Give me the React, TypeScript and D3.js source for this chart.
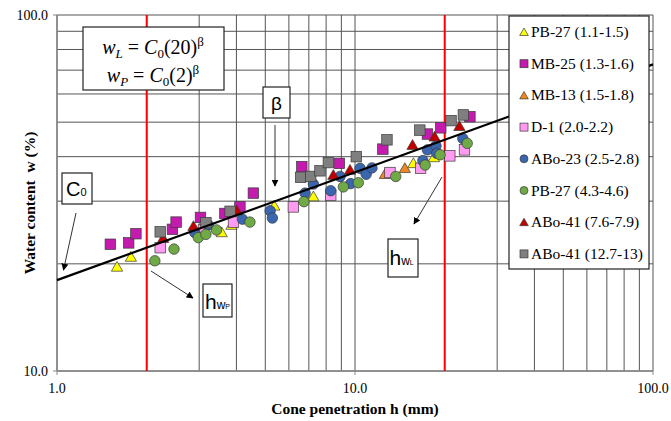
import React from "react";
import * as d3 from "d3";

// cone penetration h (mm) / water content w (%) pairs
const pb27a: [number, number][] = [
  [1.59, 19.6], [1.77, 20.9], [3.57, 24.5], [3.85, 25.7], [5.36, 29.1],
  [7.25, 30.9], [15.7, 38.3], [18.4, 39.8],
];
const mb25: [number, number][] = [
  [1.51, 22.7], [1.74, 22.9], [1.84, 24.3], [2.44, 25.0], [2.51, 26.2],
  [3.03, 27.0], [3.66, 27.7], [4.11, 28.9], [4.56, 31.6], [6.63, 37.5],
  [8.86, 38.3], [12.4, 42.0], [17.5, 46.3], [19.4, 48.2], [24.3, 51.8],
];
const mb13: [number, number][] = [[12.6, 35.7], [14.7, 37.1]];
const d1: [number, number][] = [
  [2.22, 22.2], [3.1, 24.9], [3.91, 26.2], [6.21, 28.9], [8.29, 31.2],
  [13.1, 36.1], [16.6, 37.1], [20.8, 40.2], [23.3, 41.8],
];
const abo23: [number, number][] = [
  [2.9, 24.5], [3.22, 25.7], [4.19, 26.7], [5.19, 28.2], [5.28, 26.9],
  [6.8, 31.6], [7.25, 33.5], [8.29, 32.1], [8.91, 35.2], [9.67, 33.6],
  [10.4, 37.1], [10.9, 35.7], [11.4, 37.2], [16.9, 39.0], [17.5, 41.8],
  [18.7, 42.9], [18.8, 40.9], [23.0, 45.0],
];
const pb27b: [number, number][] = [
  [2.13, 20.4], [2.47, 22.0], [2.98, 23.7], [3.16, 24.2], [3.43, 24.9],
  [4.44, 26.2], [6.74, 29.9], [9.14, 32.9], [10.26, 33.8], [13.7, 35.2],
  [17.2, 37.9], [19.3, 40.5], [23.8, 43.6],
];
const abo41a: [number, number][] = [
  [2.27, 23.6], [2.87, 25.5], [4.01, 28.2], [8.46, 35.5], [9.62, 36.7],
  [15.6, 43.1], [18.5, 45.5], [22.4, 48.7],
];
const abo41b: [number, number][] = [
  [2.22, 24.6], [3.16, 26.1], [3.81, 28.1], [6.57, 35.0], [7.1, 35.2],
  [7.63, 36.5], [8.14, 38.5], [10.1, 40.0], [12.8, 44.6], [16.5, 47.5],
  [21.0, 50.5], [23.1, 52.4],
];

const seriesNames = [
  "PB-27 (1.1-1.5)", "MB-25 (1.3-1.6)", "MB-13 (1.5-1.8)", "D-1 (2.0-2.2)",
  "ABo-23 (2.5-2.8)", "PB-27 (4.3-4.6)", "ABo-41 (7.6-7.9)", "ABo-41 (12.7-13)",
];
const seriesData = [pb27a, mb25, mb13, d1, abo23, pb27b, abo41a, abo41b];
const seriesShape = ["tri", "sq", "tri", "sq", "circ", "circ", "tri", "sq"];
const seriesColor = ["#FFFF00", "#C41BAE", "#F0861E", "#FF9BF0", "#3A66B0", "#6FAA46", "#C00000", "#7F7F7F"];

// fit w = C0 * h^beta
const C0 = 18.0;
const beta = 0.303;
const hLimits = [2, 20];
const xTicks = [1, 10, 100];
const yTicks = [10, 100];

const W = 671, H = 421;
const plot = { left: 57, right: 653, top: 15, bottom: 371 };

const x = d3.scaleLog().domain([1, 100]).range([plot.left, plot.right]);
const y = d3.scaleLog().domain([10, 100]).range([plot.bottom, plot.top]);

const xGrid = d3.range(1, 10).map((d) => d).concat(d3.range(1, 11).map((d) => d * 10));
const yGrid = d3.range(1, 11).map((d) => d * 10);

const triPath = (size: number) => d3.symbol(d3.symbolTriangle, size)() as string;

function Marker({ shape, color, cx, cy, s }: { shape: string; color: string; cx: number; cy: number; s: number }) {
  const stroke = "#3a3a3a";
  if (shape === "sq")
    return <rect x={cx - s / 2} y={cy - s / 2} width={s} height={s} fill={color} stroke={stroke} strokeWidth={0.7} />;
  if (shape === "circ") return <circle cx={cx} cy={cy} r={s / 2} fill={color} stroke={stroke} strokeWidth={0.7} />;
  return (
    <path d={triPath(s * s * 0.5)} transform={`translate(${cx},${cy + 1})`} fill={color} stroke={stroke} strokeWidth={0.7} />
  );
}

export default function App() {
  const fitLine = d3
    .line<number>()
    .x((h) => x(h))
    .y((h) => y(C0 * Math.pow(h, beta)));

  const serif = "'Liberation Serif', 'Times New Roman', serif";
  const sans = "'Liberation Sans', Arial, sans-serif";

  return (
    <svg width={W} height={H} style={{ position: "absolute", left: 0, top: 0, background: "#fff" }}>
      {/* grid */}
      {yGrid.map((v) => (
        <line key={"gy" + v} x1={plot.left} x2={plot.right} y1={y(v)} y2={y(v)} stroke="#555" strokeWidth={1} />
      ))}
      {xGrid.map((v) => (
        <line key={"gx" + v} x1={x(v)} x2={x(v)} y1={plot.top} y2={plot.bottom} stroke="#555" strokeWidth={1} />
      ))}
      <line x1={plot.left} x2={plot.left} y1={plot.top} y2={plot.bottom} stroke="#888" strokeWidth={1.5} />
      <line x1={plot.left} x2={plot.right} y1={plot.bottom} y2={plot.bottom} stroke="#888" strokeWidth={1.5} />
      {hLimits.map((v) => (
        <line key={"r" + v} x1={x(v)} x2={x(v)} y1={plot.top} y2={plot.bottom} stroke="#FF0000" strokeWidth={2} />
      ))}

      {/* ticks */}
      {xTicks.map((v) => (
        <g key={"xt" + v}>
          <line x1={x(v)} x2={x(v)} y1={plot.bottom} y2={plot.bottom + 4} stroke="#888" />
          <text x={x(v)} y={plot.bottom + 22} textAnchor="middle" fontFamily={serif} fontSize={14}>
            {v.toFixed(1)}
          </text>
        </g>
      ))}
      {yTicks.map((v) => (
        <g key={"yt" + v}>
          <line x1={plot.left - 4} x2={plot.left} y1={y(v)} y2={y(v)} stroke="#888" />
          <text x={plot.left - 9} y={y(v) + 4.5} textAnchor="end" fontFamily={serif} fontSize={14}>
            {v.toFixed(1)}
          </text>
        </g>
      ))}

      {/* axis titles */}
      <text x={355} y={414} textAnchor="middle" fontFamily={serif} fontSize={15.5} fontWeight="bold">
        Cone penetration h (mm)
      </text>
      <text
        transform={`translate(35,${(plot.top + plot.bottom) / 2 + 10}) rotate(-90)`}
        textAnchor="middle"
        fontFamily={serif}
        fontSize={15.5}
        fontWeight="bold"
        style={{ whiteSpace: "pre" }}
      >
        Water content  w (%)
      </text>

      {/* points */}
      {seriesData.map((ser, i) => (
        <g key={"s" + i}>
          {ser.map(([h, w], j) => (
            <Marker key={j} shape={seriesShape[i]} color={seriesColor[i]} cx={x(h)} cy={y(w)} s={10.5} />
          ))}
        </g>
      ))}

      {/* fitted line */}
      <path d={fitLine([1, 100]) as string} fill="none" stroke="#000" strokeWidth={2.2} />

      {/* annotations */}
      <rect x={83} y={27} width={141} height={63} fill="#fff" stroke="#222" strokeWidth={1.2} />
      <text x={153} y={54} textAnchor="middle" fontFamily={serif} fontSize={20}>
        <tspan fontStyle="italic">w</tspan>
        <tspan fontStyle="italic" fontSize={13} dy={4}>L</tspan>
        <tspan dy={-4}> = </tspan>
        <tspan fontStyle="italic">C</tspan>
        <tspan fontSize={13} dy={4}>0</tspan>
        <tspan dy={-4}>(20)</tspan>
        <tspan fontSize={13} dy={-8}>β</tspan>
      </text>
      <text x={153} y={82} textAnchor="middle" fontFamily={serif} fontSize={20}>
        <tspan fontStyle="italic">w</tspan>
        <tspan fontStyle="italic" fontSize={13} dy={4}>P</tspan>
        <tspan dy={-4}> = </tspan>
        <tspan fontStyle="italic">C</tspan>
        <tspan fontSize={13} dy={4}>0</tspan>
        <tspan dy={-4}>(2)</tspan>
        <tspan fontSize={13} dy={-8}>β</tspan>
      </text>

      <defs>
        <marker id="ah" viewBox="0 0 10 10" refX={9} refY={5} markerWidth={7} markerHeight={7} orient="auto">
          <path d="M0,0 L10,5 L0,10 z" fill="#000" />
        </marker>
      </defs>

      <rect x={263} y={87} width={27} height={31} fill="#fff" stroke="#222" strokeWidth={1.2} />
      <text x={276.5} y={110} textAnchor="middle" fontFamily={sans} fontSize={19}>β</text>
      <line x1={275} y1={125} x2={275} y2={186} stroke="#333" strokeWidth={1} markerEnd="url(#ah)" />

      <rect x={62} y={173} width={30} height={31} fill="#fff" stroke="#222" strokeWidth={1.2} />
      <text x={66} y={196} fontFamily={sans} fontSize={20}>
        C<tspan fontSize={11}>0</tspan>
      </text>
      <line x1={76} y1={213} x2={63.5} y2={270} stroke="#333" strokeWidth={1} markerEnd="url(#ah)" />

      <rect x={203} y={284} width={29} height={33} fill="#fff" stroke="#222" strokeWidth={1.2} />
      <text x={205} y={309} fontFamily={sans} fontSize={21}>
        h<tspan fontSize={12}>w</tspan><tspan fontSize={7}>P</tspan>
      </text>
      <line x1={151} y1={271} x2={193} y2={298} stroke="#333" strokeWidth={1} markerEnd="url(#ah)" />

      <rect x={388} y={239} width={30} height={38} fill="#fff" stroke="#222" strokeWidth={1.2} />
      <text x={389.5} y={265} fontFamily={sans} fontSize={21}>
        h<tspan fontSize={12}>w</tspan><tspan fontSize={7}>L</tspan>
      </text>
      <line x1={442} y1={177} x2={414} y2={224} stroke="#333" strokeWidth={1} markerEnd="url(#ah)" />

      {/* legend */}
      <rect x={509} y={16} width={140} height={253} fill="#fff" stroke="#222" strokeWidth={1.2} />
      {seriesNames.map((name, i) => {
        const ly = 32 + i * 31.7;
        return (
          <g key={"l" + i}>
            <Marker shape={seriesShape[i]} color={seriesColor[i]} cx={524} cy={ly} s={8} />
            <text x={531} y={ly + 5} fontFamily={serif} fontSize={15.5}>
              {name}
            </text>
          </g>
        );
      })}
    </svg>
  );
}
